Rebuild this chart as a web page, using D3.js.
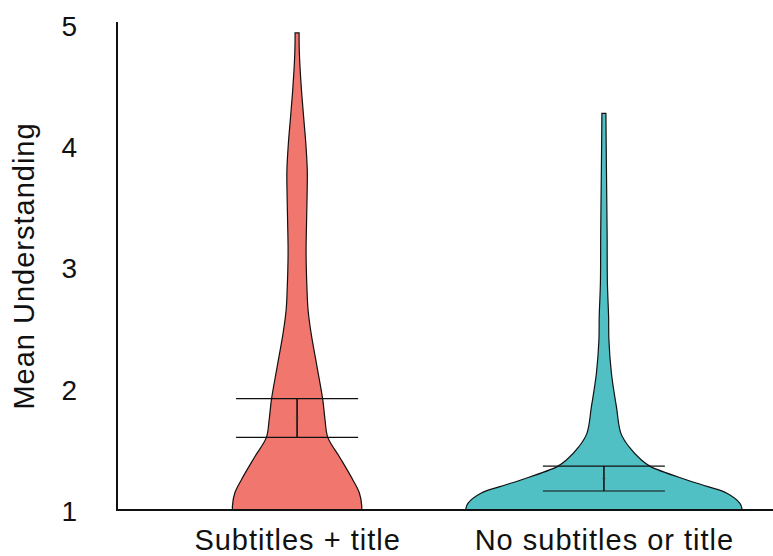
<!DOCTYPE html>
<html>
<head>
<meta charset="utf-8">
<script src="https://cdn.jsdelivr.net/npm/d3@7"></script>
<style>
  body { margin: 0; background: #fff; }
  text { font-family: "Liberation Sans", Arial, sans-serif; fill: #111; }
</style>
</head>
<body>
<div id="chart"></div>
<script>

// Groups
const categories = ["Subtitles + title", "No subtitles or title"]

// Violin outlines: level of understanding and density (arbitrary units)
const subtitlesLevels  = [1.0, 1.03, 1.14, 1.25, 1.44, 1.6, 1.74, 1.91, 2.18, 2.46, 2.65, 2.8, 3.12, 3.39, 3.6, 3.8, 4.03, 4.22, 4.49, 4.77, 4.94]
const subtitlesDensity = [6.45, 6.47, 6.23, 5.57, 4.23, 3.07, 2.8, 2.57, 2.0, 1.4, 1.1, 1.0, 0.9, 0.95, 1.0, 1.02, 0.87, 0.68, 0.42, 0.23, 0.2]

const noSubtitlesLevels  = [1.0, 1.014, 1.055, 1.138, 1.193, 1.248, 1.358, 1.413, 1.523, 1.633, 1.853, 2.129, 2.404, 2.594, 2.874, 3.287, 3.835, 4.276]
const noSubtitlesDensity = [13.8, 13.8, 13.6, 12.3, 10.4, 8.3, 4.67, 3.75, 2.5, 1.7, 1.25, 0.75, 0.5, 0.47, 0.35, 0.32, 0.25, 0.2]

// Means and confidence interval bounds
const means  = [1.76, 1.26]
const ciLow  = [1.60, 1.157]
const ciHigh = [1.919, 1.363]

const yTicks = [1, 2, 3, 4, 5]

const colors = ["#f0766e", "#50c0c4"]

// Layout
const outerWidth = 773
const outerHeight = 556
const axisLeftX = 117
const axisBottomY = 510

const svg = d3.select("#chart")
    .append("svg")
    .attr("width", outerWidth)
    .attr("height", outerHeight)

const y = d3.scaleLinear()
    .domain([1, 5.03])
    .range([axisBottomY, 22])

const x = d3.scalePoint()
    .domain(categories)
    .range([113, 788])
    .padding(0.6)

const halfWidth = d3.scaleLinear()
    .domain([0, 13.8])
    .range([0, 138])

const groups = [
    {name: categories[0], levels: subtitlesLevels, density: subtitlesDensity},
    {name: categories[1], levels: noSubtitlesLevels, density: noSubtitlesDensity}
]

// Violins
groups.forEach((g, i) => {
    const pts = g.levels.map((v, j) => [v, g.density[j]])
    const cx = x(g.name)
    const area = d3.area()
        .curve(d3.curveCatmullRom)
        .y(d => y(d[0]))
        .x0(d => cx - halfWidth(d[1]))
        .x1(d => cx + halfWidth(d[1]))

    svg.append("path")
        .datum(pts)
        .attr("d", area)
        .attr("fill", colors[i])
        .attr("stroke", "#111")
        .attr("stroke-width", 1.2)
})

// Error bars
const capHalf = 61
categories.forEach((c, i) => {
    const cx = x(c)
    const eb = svg.append("g").attr("stroke", "#111")
    eb.append("line")
        .attr("x1", cx - capHalf).attr("x2", cx + capHalf)
        .attr("y1", y(ciHigh[i])).attr("y2", y(ciHigh[i]))
        .attr("stroke-width", 1.2)
    eb.append("line")
        .attr("x1", cx - capHalf).attr("x2", cx + capHalf)
        .attr("y1", y(ciLow[i])).attr("y2", y(ciLow[i]))
        .attr("stroke-width", 1.2)
    eb.append("line")
        .attr("x1", cx).attr("x2", cx)
        .attr("y1", y(ciLow[i])).attr("y2", y(ciHigh[i]))
        .attr("stroke-width", 1.6)
    svg.append("circle")
        .attr("cx", cx)
        .attr("cy", y(means[i]))
        .attr("r", 1.3)
        .attr("fill", "#333")
})

// Y axis
const yAxis = svg.append("g")
    .attr("transform", `translate(${axisLeftX},0)`)
    .call(d3.axisLeft(y).tickValues(yTicks).tickFormat(d3.format("d")).tickSize(0).tickPadding(40))
yAxis.select(".domain").remove()
yAxis.selectAll("text")
    .style("font-size", "28px")
    .attr("dy", "0.36em")

// X axis labels
const xAxis = svg.append("g")
    .attr("transform", `translate(0,${axisBottomY})`)
    .call(d3.axisBottom(x).tickSize(0).tickPadding(19))
xAxis.select(".domain").remove()
xAxis.selectAll("text")
    .style("font-size", "29px")
    .style("letter-spacing", "1px")

// Axis lines
svg.append("line")
    .attr("x1", axisLeftX).attr("x2", axisLeftX)
    .attr("y1", y.range()[1]).attr("y2", axisBottomY)
    .attr("stroke", "#111").attr("stroke-width", 2)
svg.append("line")
    .attr("x1", axisLeftX - 1).attr("x2", outerWidth)
    .attr("y1", axisBottomY).attr("y2", axisBottomY)
    .attr("stroke", "#111").attr("stroke-width", 2)

// Y title
svg.append("text")
    .attr("transform", `translate(34,266) rotate(-90)`)
    .attr("text-anchor", "middle")
    .style("font-size", "29px")
    .style("letter-spacing", "1px")
    .text("Mean Understanding")

</script>
</body>
</html>
